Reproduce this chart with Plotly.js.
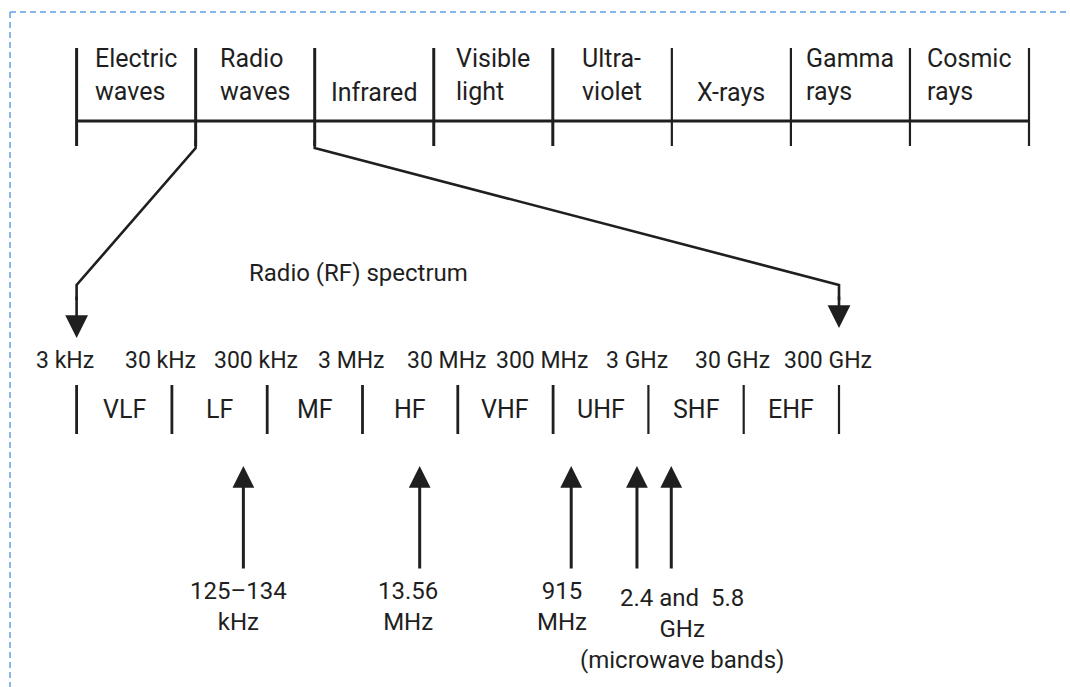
<!DOCTYPE html>
<html><head><meta charset="utf-8">
<script src="https://cdn.plot.ly/plotly-3.0.1.min.js"></script>
<style>html,body{margin:0;padding:0;background:#fff}#chart{width:1070px;height:687px}</style>
</head><body><div id="chart"></div>
<script>
// ---------- DATA ----------
// Regions of the electromagnetic spectrum (top scale)
const spectrumRegions = ["Electric<br>waves", "Radio<br>waves", "Infrared", "Visible<br>light",
  "Ultra-<br>violet", "X-rays", "Gamma<br>rays", "Cosmic<br>rays"];
const expandedRegion = 1;            // "Radio waves" is expanded below
// Radio (RF) spectrum: band edges and band names
const rfEdgeLabels = ["3 kHz", "30 kHz", "300 kHz", "3 MHz", "30 MHz", "300 MHz", "3 GHz", "30 GHz", "300 GHz"];
const rfBands = ["VLF", "LF", "MF", "HF", "VHF", "UHF", "SHF", "EHF"];
// RFID frequencies marked on the RF scale (position in band units)
const rfidLabels = ["125–134<br>kHz", "13.56<br>MHz", "915<br>MHz", "2.4 and  5.8<br>GHz<br>(microwave bands)"];
const rfidMarkerPos = [1.75, 3.60, 5.19, 5.88, 6.24];
const rfidMarkerGroup = [0, 1, 2, 3, 3];

// ---------- LAYOUT CONSTANTS ----------
const W = 1070, H = 687;
const TOP_PX = 119.05, BAND_PX = 95.3, ORIGIN_PX = 76.6;
const topRange = [-ORIGIN_PX / TOP_PX, (W - ORIGIN_PX) / TOP_PX];
const bandRange = [-ORIGIN_PX / BAND_PX, (W - ORIGIN_PX) / BAND_PX];
const bandToTop = j => j * BAND_PX / TOP_PX;
const labelTextX = [1.694, 3.478, 5.093, 6.353];
const labelTop = [575, 575, 575, 582];
const INK = '#1f1f1f';
const FONT = 'Roboto, "Liberation Sans", sans-serif';
const FS = 25;

const shapes = [];
const annotations = [];

// dashed frame
shapes.push({type: 'line', xref: 'paper', yref: 'y', x0: 10 / W, x1: 1, y0: 12, y1: 12,
  line: {color: '#5fa3e3', width: 1.5, dash: '6px,4px'}});
shapes.push({type: 'line', xref: 'paper', yref: 'y', x0: 10 / W, x1: 10 / W, y0: 12, y1: H,
  line: {color: '#5fa3e3', width: 1.5, dash: '6px,4px'}});

// top spectrum scale
shapes.push({type: 'line', xref: 'x', yref: 'y', x0: 0, x1: spectrumRegions.length, y0: 121, y1: 121,
  line: {color: INK, width: 3}});
for (let i = 0; i <= spectrumRegions.length; i++) {
  shapes.push({type: 'line', xref: 'x', yref: 'y', x0: i, x1: i, y0: 48, y1: 146,
    line: {color: INK, width: i < 5 ? 3 : 2.2}});
}
spectrumRegions.forEach((t, i) => {
  const two = t.indexOf('<br>') >= 0;
  annotations.push({xref: 'x', yref: 'y', x: i + 0.5, y: two ? 75 : 92, text: t, showarrow: false,
    align: 'left', xanchor: 'center', yanchor: 'middle', font: {family: FONT, size: FS, color: INK}});
});

// connectors from "Radio waves" region down to RF scale
const nB = rfBands.length;
[[expandedRegion, 0, 338], [expandedRegion + 1, nB, 328]].forEach(([ti, bj, tip]) => {
  const xb = bandToTop(bj);
  shapes.push({type: 'path', xref: 'x', yref: 'y',
    path: `M ${ti} 140 L ${ti} 148 L ${xb} 285 L ${xb} 300`,
    line: {color: INK, width: 2.6}});
  annotations.push({xref: 'x2', yref: 'y', axref: 'x2', ayref: 'y', x: bj, y: tip, ax: bj, ay: 295,
    text: '', showarrow: true, arrowhead: 2, arrowsize: 1.75, arrowwidth: 2.6, arrowcolor: INK});
});

annotations.push({xref: 'x2', yref: 'y', x: 2.96, y: 273, text: 'Radio (RF) spectrum', showarrow: false,
  font: {family: FONT, size: 24, color: INK}});

// RF scale
rfEdgeLabels.forEach((t, j) => {
  annotations.push({xref: 'x2', yref: 'y', x: j - 0.12, y: 360, text: t, showarrow: false,
    font: {family: FONT, size: 23, color: INK}});
  shapes.push({type: 'line', xref: 'x2', yref: 'y', x0: j, x1: j, y0: 385, y1: 434,
    line: {color: INK, width: j < 6 ? 2.8 : 2.2}});
});
rfBands.forEach((t, j) => {
  annotations.push({xref: 'x2', yref: 'y', x: j + 0.5, y: 409, text: t, showarrow: false,
    font: {family: FONT, size: FS, color: INK}});
});

// RFID frequency markers
rfidMarkerPos.forEach((p) => {
  annotations.push({xref: 'x2', yref: 'y', axref: 'x2', ayref: 'y', x: p, y: 466, ax: p, ay: 570,
    text: '', showarrow: true, arrowhead: 2, arrowsize: 1.45, arrowwidth: 3, arrowcolor: INK});
});
rfidLabels.forEach((t, k) => {
  annotations.push({xref: 'x2', yref: 'y', x: labelTextX[k], y: labelTop[k], text: t, showarrow: false,
    align: 'center', xanchor: 'center', yanchor: 'top', font: {family: FONT, size: 24, color: INK}});
});

const traces = [
  {x: [], y: [], xaxis: 'x', yaxis: 'y', type: 'scatter', hoverinfo: 'skip'},
  {x: [], y: [], xaxis: 'x2', yaxis: 'y', type: 'scatter', hoverinfo: 'skip'}
];
const layout = {
  width: W, height: H, margin: {l: 0, r: 0, t: 0, b: 0},
  paper_bgcolor: '#fff', plot_bgcolor: '#fff', showlegend: false,
  xaxis: {range: topRange, visible: false, fixedrange: true},
  xaxis2: {range: bandRange, visible: false, overlaying: 'x', anchor: 'y', fixedrange: true},
  yaxis: {range: [H, 0], visible: false, fixedrange: true},
  shapes: shapes, annotations: annotations
};
Plotly.newPlot('chart', traces, layout, {displayModeBar: false, staticPlot: true});
</script>
</body></html>
